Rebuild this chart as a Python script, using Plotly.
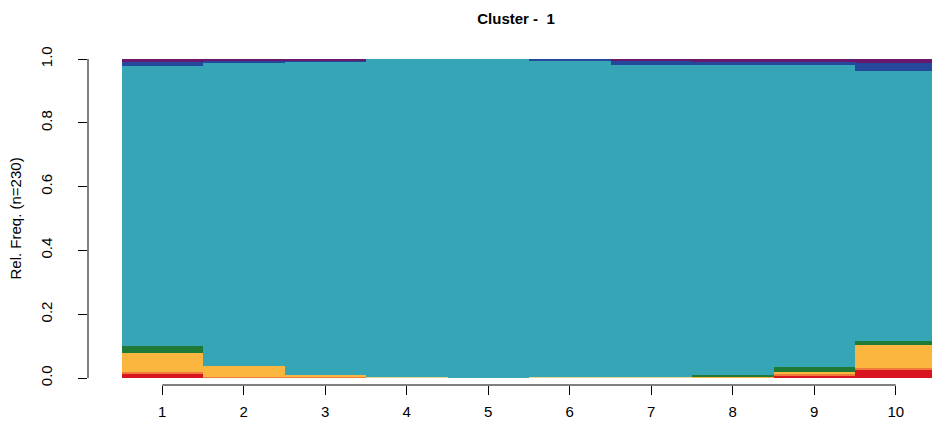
import plotly.graph_objects as go

# Sequence positions (x categories)
positions = [1, 2, 3, 4, 5, 6, 7, 8, 9, 10]
n_total = 230

# Counts per state at each position (bottom to top)
state_names = ["S1", "S2", "S3", "S4", "S5", "S6", "S7", "S8"]
s1_red =      [3, 0, 0, 0, 0, 0, 0, 0, 2, 6]
s2_orange =   [1, 1, 1, 0, 0, 0, 0, 0, 1, 1]
s3_yellow =   [14, 8, 1, 0, 0, 0, 0, 1, 1, 17]
s4_pale =     [0, 0, 0, 1, 0, 1, 1, 0, 0, 0]
s5_green =    [5, 0, 0, 0, 0, 0, 0, 1, 4, 3]
s7_blue =     [3, 2, 1, 0, 0, 1, 3, 2, 2, 6]
s8_purple =   [2, 1, 1, 0, 0, 0, 1, 2, 2, 3]
s6_teal = [n_total - (a + b + c + d + e + f + g) for a, b, c, d, e, f, g in
           zip(s1_red, s2_orange, s3_yellow, s4_pale, s5_green, s7_blue, s8_purple)]

series = [s1_red, s2_orange, s3_yellow, s4_pale, s5_green, s6_teal, s7_blue, s8_purple]
colors = ["#D81420", "#F07A3A", "#FBB640", "#E8D896", "#1F7A38", "#36A6B6", "#24499B", "#69196C"]

y_ticks = [0.0, 0.2, 0.4, 0.6, 0.8, 1.0]
y_tick_text = ["0.0", "0.2", "0.4", "0.6", "0.8", "1.0"]

fig = go.Figure()
for name, vals, col in zip(state_names, series, colors):
    fig.add_trace(go.Bar(
        x=positions, y=[v / n_total for v in vals], name=name,
        marker=dict(color=col, line=dict(width=0)), width=1.0,
        showlegend=False, hoverinfo="skip",
    ))

font_family = "Liberation Sans, Arial, sans-serif"

fig.update_layout(
    width=932, height=427,
    barmode="stack", bargap=0,
    paper_bgcolor="white", plot_bgcolor="white",
    margin=dict(l=88, r=0, t=57, b=42),
    font=dict(family=font_family, color="black", size=15),
    title=dict(text="<b>Cluster -\u00a0 1</b>", x=516 / 932, xref="container",
               xanchor="center", y=1 - 19 / 427, yref="container", yanchor="middle",
               font=dict(size=15, family=font_family, color="black")),
    xaxis=dict(range=[0.089, 10.4448], tickvals=positions,
               ticktext=[str(p) for p in positions],
               ticks="outside", ticklen=9, tickwidth=1, tickcolor="black",
               showgrid=False, zeroline=False, showline=False,
               tickfont=dict(size=15), ticklabelstandoff=4, fixedrange=True),
    yaxis=dict(range=[-7 / 319, 1 + 2 / 319], tickvals=y_ticks, ticktext=y_tick_text,
               ticks="outside", ticklen=9, tickwidth=1, tickcolor="black",
               tickangle=-90, showgrid=False, zeroline=False, showline=False,
               tickfont=dict(size=15), ticklabelstandoff=20, fixedrange=True),
    shapes=[
        dict(type="line", xref="x", yref="paper", x0=1, x1=10, y0=0, y1=0,
             line=dict(color="black", width=1)),
        dict(type="line", xref="paper", yref="y", x0=0, x1=0, y0=0, y1=1,
             line=dict(color="black", width=1)),
    ],
    annotations=[
        dict(text="Rel. Freq. (n=230)", xref="paper", yref="y",
             x=(15 - 88) / 844, y=0.5, xanchor="center", yanchor="middle",
             textangle=-90, showarrow=False, font=dict(size=15, family=font_family)),
    ],
)

fig.write_html("out.html", config={"displayModeBar": False},
               post_script="document.body.style.margin='0';")
